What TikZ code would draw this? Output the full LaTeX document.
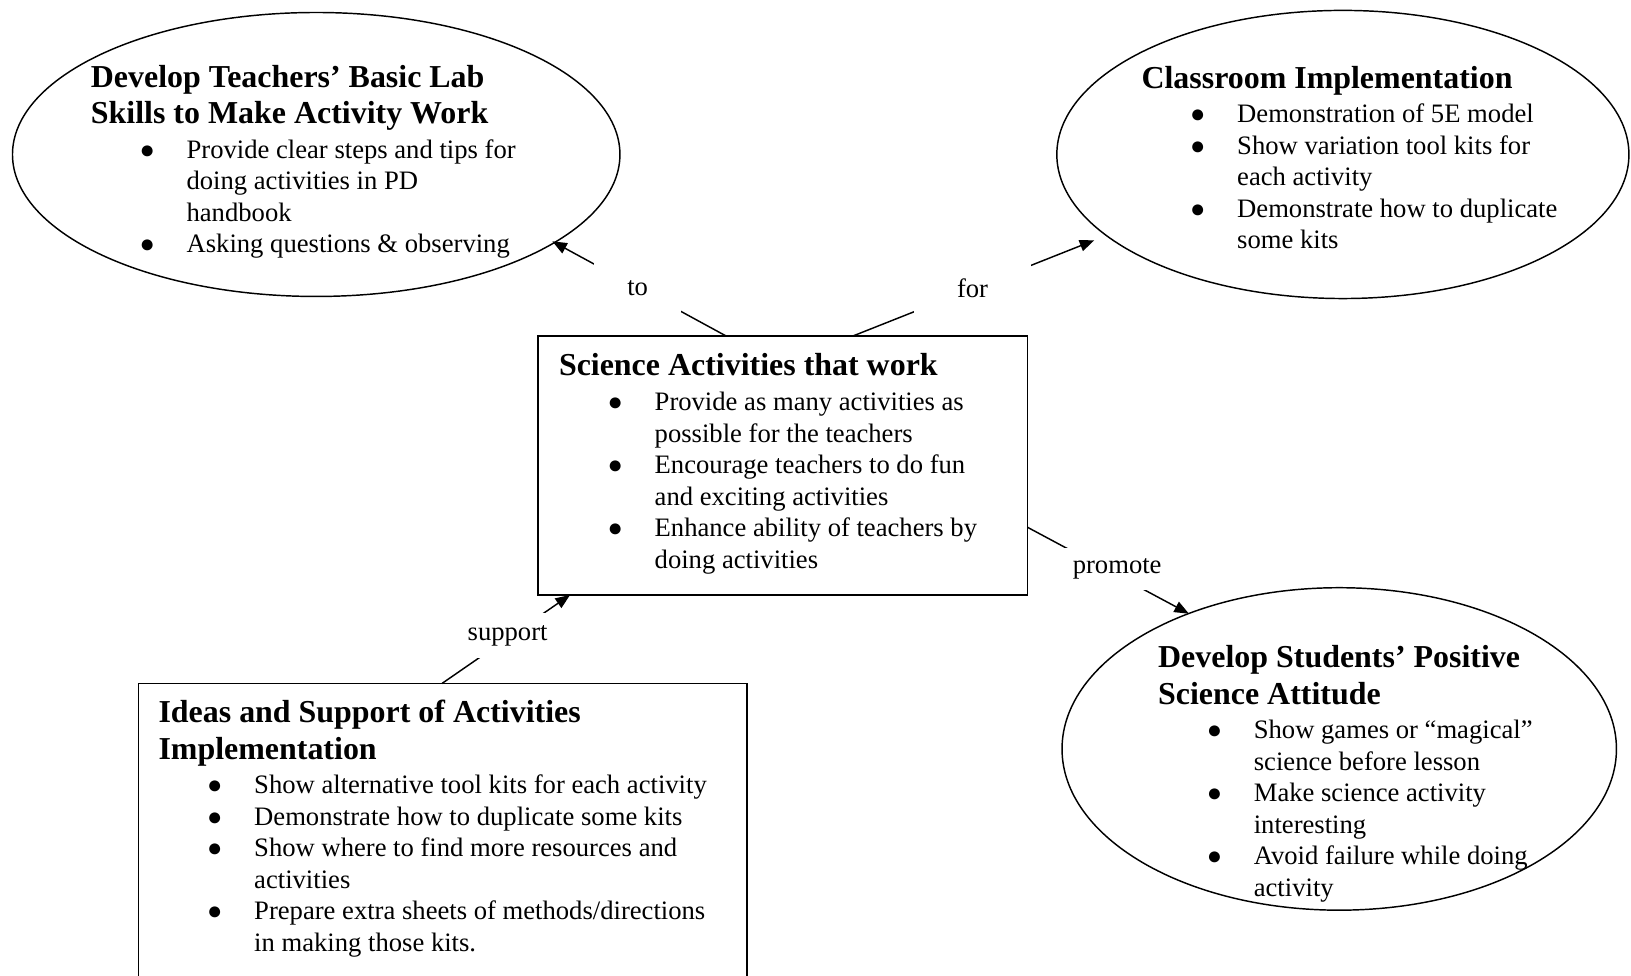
\documentclass[tikz,border=0pt]{standalone}
\usepackage{fontspec}
\setmainfont{Liberation Serif}
\usetikzlibrary{shapes.geometric,arrows.meta}
\tikzset{
  shp/.style={draw=black, line width=0.7pt},
  ell/.style={shp, ellipse, inner sep=0pt},
  boxshape/.style={shp, rectangle, inner sep=0pt},
  ttl/.style={anchor=base west, inner sep=0pt, font=\fontsize{15.35}{17.5}\selectfont\bfseries},
  lst/.style={anchor=base west, inner sep=0pt, font=\fontsize{12.8}{15.15}\selectfont},
  lbl/.style={fill=white, inner sep=0pt, font=\fontsize{12.8}{15.15}\selectfont},
  conn/.style={line width=0.7pt, -{Triangle[length=7pt,width=5.5pt]}},
}
\newcommand\itm{\makebox[46pt][l]{\hspace*{23.4pt}{\fontsize{12.2}{12.2}\selectfont ●}}}
\begin{document}
\begin{tikzpicture}[x=0.5pt,y=-0.5pt]
\useasboundingbox (0,0) rectangle (1568,938);

% shapes
\node[ell, minimum width=292pt, minimum height=136.5pt] (tl) at (304,148.5) {};
\node[ell, minimum width=275pt, minimum height=138.5pt] (tr) at (1291,148.5) {};
\node[ell, minimum width=266.5pt, minimum height=155pt] (br) at (1287.5,720) {};
\node[boxshape, minimum width=235.5pt, minimum height=124.5pt] (sci) at (752.5,447.5) {};
\node[boxshape, minimum width=292.5pt, minimum height=151.5pt] (ideas) at (425.5,808.5) {};

% texts
\node[ttl] (tlT) at (87,84) {\begin{tabular}[t]{@{}l@{}}Develop Teachers’ Basic Lab\\Skills to Make Activity Work\end{tabular}};
\node[lst] (tlL) at (87,152) {\begin{tabular}[t]{@{}l@{}l@{}}
\itm & Provide clear steps and tips for\\
 & doing activities in PD\\
 & handbook\\
\itm & Asking questions \& observing
\end{tabular}};

\node[ttl] (trT) at (1097,85) {Classroom Implementation};
\node[lst] (trL) at (1097,118) {\begin{tabular}[t]{@{}l@{}l@{}}
\itm & Demonstration of 5E model\\
\itm & Show variation tool kits for\\
 & each activity\\
\itm & Demonstrate how to duplicate\\
 & some kits
\end{tabular}};

\node[ttl] (sciT) at (537,361) {Science Activities that work};
\node[lst] (sciL) at (537,395) {\begin{tabular}[t]{@{}l@{}l@{}}
\itm & Provide as many activities as\\
 & possible for the teachers\\
\itm & Encourage teachers to do fun\\
 & and exciting activities\\
\itm & Enhance ability of teachers by\\
 & doing activities
\end{tabular}};

\node[ttl] (brT) at (1113,642) {\begin{tabular}[t]{@{}l@{}}Develop Students’ Positive\\Science Attitude\end{tabular}};
\node[lst] (brL) at (1113,710) {\begin{tabular}[t]{@{}l@{}l@{}}
\itm & Show games or “magical”\\
 & science before lesson\\
\itm & Make science activity\\
 & interesting\\
\itm & Avoid failure while doing\\
 & activity
\end{tabular}};

\node[ttl] (ideasT) at (152,695) {\begin{tabular}[t]{@{}l@{}}Ideas and Support of Activities\\Implementation\end{tabular}};
\node[lst] (ideasL) at (152,763) {\begin{tabular}[t]{@{}l@{}l@{}}
\itm & Show alternative tool kits for each activity\\
\itm & Demonstrate how to duplicate some kits\\
\itm & Show where to find more resources and\\
 & activities\\
\itm & Prepare extra sheets of methods/directions\\
 & in making those kits.
\end{tabular}};

% connector end points
\coordinate (toS) at (698,323);
\coordinate (toE) at (531,232);
\coordinate (forS) at (820,323);
\coordinate (forE) at (1052,231);
\coordinate (proS) at (988,507);
\coordinate (proE) at (1143,590);
\coordinate (supS) at (425,657);
\coordinate (supE) at (548,572);

% connectors
\draw[conn] (toS) -- (toE);
\draw[conn] (forS) -- (forE);
\draw[conn] (proS) -- (proE);
\draw[conn] (supS) -- (supE);

% labels (white boxes make the gaps)
\node[lbl, minimum width=42pt, minimum height=25pt] (lto) at (613,277) {to};
\node[lbl, minimum width=56pt, minimum height=25pt] (lfor) at (935,277) {for};
\node[lbl, minimum width=59pt, minimum height=20pt] (lpro) at (1074,547) {promote};
\node[lbl, minimum width=45pt, minimum height=22pt] (lsup) at (488,611) {support};
\end{tikzpicture}
\end{document}
